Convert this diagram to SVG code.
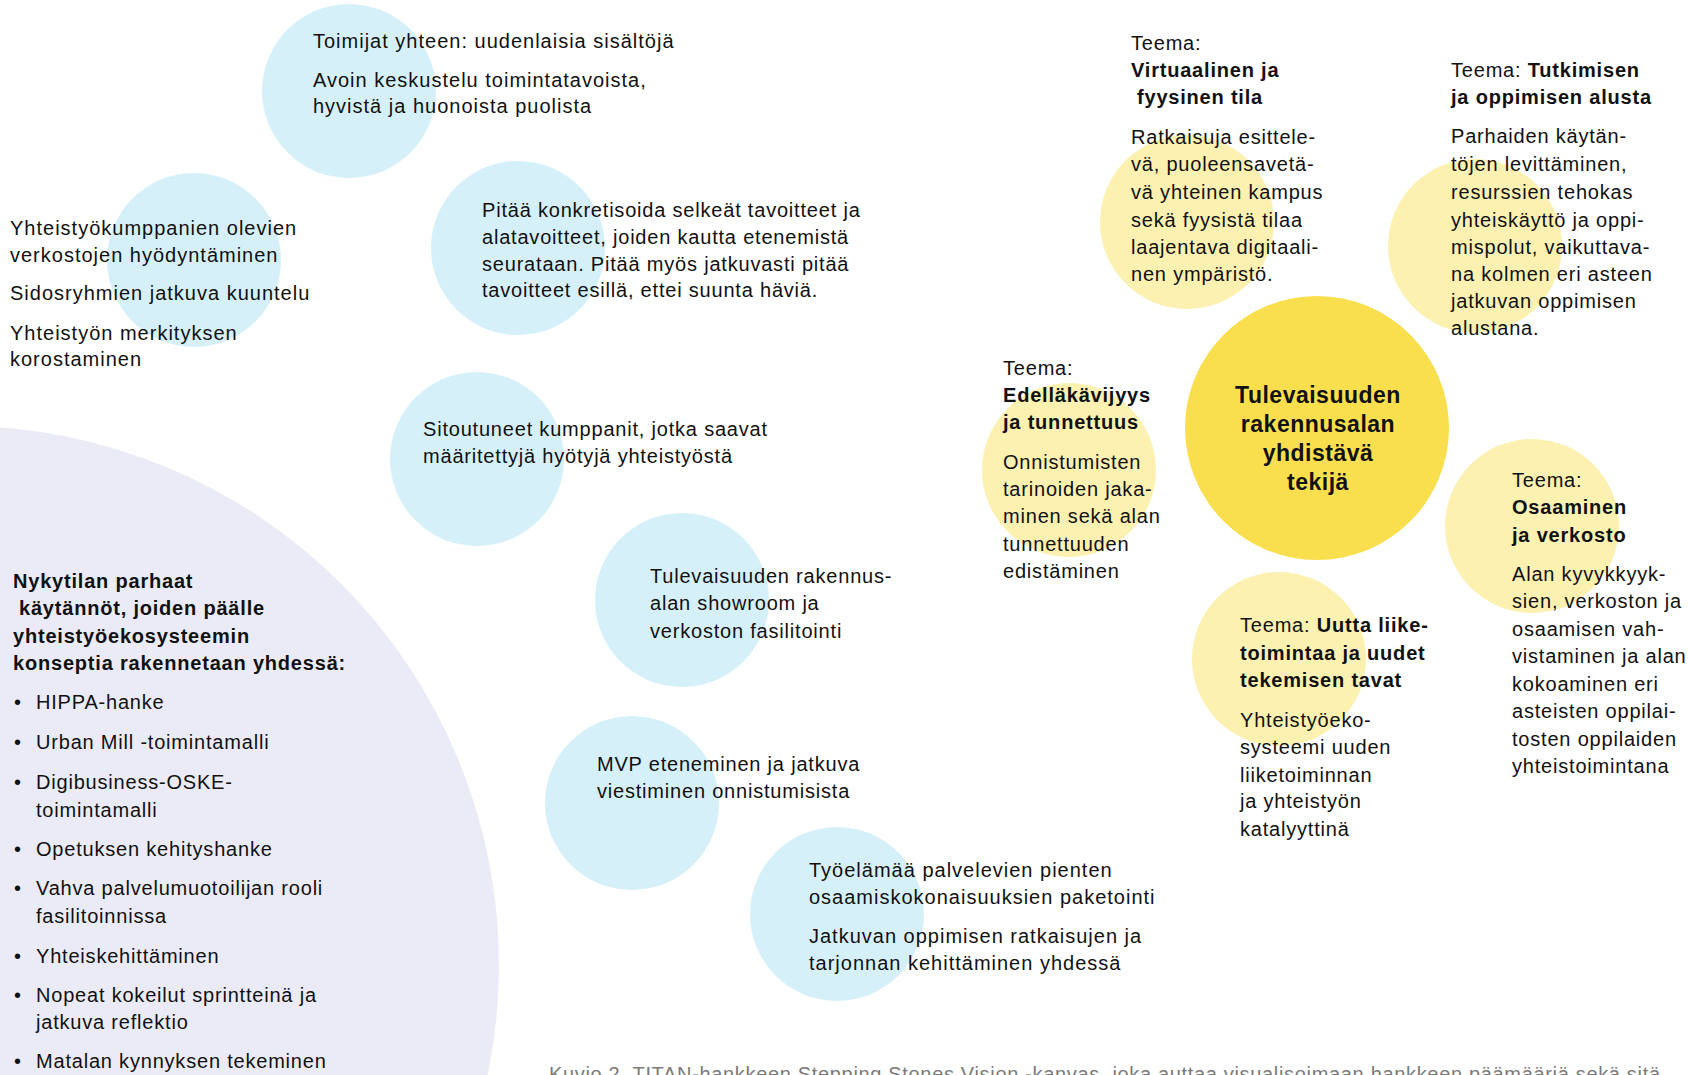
<svg xmlns="http://www.w3.org/2000/svg" width="1688" height="1075" viewBox="0 0 1688 1075">
  <style>
    .t { font-family: "Liberation Sans", Arial, sans-serif; font-size: 20px; letter-spacing: 0.8px; fill: #111111; }
    .w { letter-spacing: 1px; }
    .b { font-weight: 700; }
    .title { font-family: "Liberation Sans", Arial, sans-serif; font-size: 23px; font-weight: 700; letter-spacing: 0.5px; fill: #111111; text-anchor: middle; }
    .cap { font-family: "Liberation Sans", Arial, sans-serif; font-size: 20px; fill: #7a7a7a; }
    .blue { fill: #d6f0fa; }
    .pale { fill: #fcf1b1; }
    .gold { fill: #f9df4d; }
    .lav { fill: #ebebf7; }
  </style>

  <rect width="1688" height="1075" fill="#ffffff"/>

  <!-- Current best practices -->
  <g id="best-practices">
    <circle class="lav" cx="-40" cy="965" r="539"/>
    <text class="t b" x="13" y="588">Nykytilan parhaat</text>
    <text class="t b" x="19" y="615">käytännöt, joiden päälle</text>
    <text class="t b" x="13" y="643">yhteistyöekosysteemin</text>
    <text class="t b" x="13" y="670">konseptia rakennetaan yhdessä:</text>
    <g class="t">
      <text x="14" y="709">•</text><text x="36" y="709">HIPPA-hanke</text>
      <text x="14" y="749">•</text><text x="36" y="749">Urban Mill -toimintamalli</text>
      <text x="14" y="789">•</text><text x="36" y="789">Digibusiness-OSKE-</text>
      <text x="36" y="817">toimintamalli</text>
      <text x="14" y="856">•</text><text x="36" y="856">Opetuksen kehityshanke</text>
      <text x="14" y="895">•</text><text x="36" y="895">Vahva palvelumuotoilijan rooli</text>
      <text x="36" y="923">fasilitoinnissa</text>
      <text x="14" y="963">•</text><text x="36" y="963">Yhteiskehittäminen</text>
      <text x="14" y="1002">•</text><text x="36" y="1002">Nopeat kokeilut sprintteinä ja</text>
      <text x="36" y="1029">jatkuva reflektio</text>
      <text x="14" y="1068">•</text><text x="36" y="1068">Matalan kynnyksen tekeminen</text>
    </g>
  </g>

  <!-- Stepping stones -->
  <g id="stone-actors">
    <circle class="blue" cx="349" cy="91" r="87"/>
    <g class="t w">
      <text x="313" y="48">Toimijat yhteen: uudenlaisia sisältöjä</text>
      <text x="313" y="87">Avoin keskustelu toimintatavoista,</text>
      <text x="313" y="113">hyvistä ja huonoista puolista</text>
    </g>
  </g>

  <g id="stone-networks">
    <circle class="blue" cx="194" cy="260" r="87"/>
    <g class="t w">
      <text x="10" y="235">Yhteistyökumppanien olevien</text>
      <text x="10" y="262">verkostojen hyödyntäminen</text>
      <text x="10" y="300">Sidosryhmien jatkuva kuuntelu</text>
      <text x="10" y="340">Yhteistyön merkityksen</text>
      <text x="10" y="366">korostaminen</text>
    </g>
  </g>

  <g id="stone-goals">
    <circle class="blue" cx="518" cy="248" r="87"/>
    <g class="t">
      <text x="482" y="217">Pitää konkretisoida selkeät tavoitteet ja</text>
      <text x="482" y="244">alatavoitteet, joiden kautta etenemistä</text>
      <text x="482" y="271">seurataan. Pitää myös jatkuvasti pitää</text>
      <text x="482" y="297">tavoitteet esillä, ettei suunta häviä.</text>
    </g>
  </g>

  <g id="stone-partners">
    <circle class="blue" cx="477" cy="459" r="87"/>
    <g class="t">
      <text x="423" y="436">Sitoutuneet kumppanit, jotka saavat</text>
      <text x="423" y="463">määritettyjä hyötyjä yhteistyöstä</text>
    </g>
  </g>

  <g id="stone-showroom">
    <circle class="blue" cx="682" cy="600" r="87"/>
    <g class="t">
      <text x="650" y="583">Tulevaisuuden rakennus-</text>
      <text x="650" y="610">alan showroom ja</text>
      <text x="650" y="638">verkoston fasilitointi</text>
    </g>
  </g>

  <g id="stone-mvp">
    <circle class="blue" cx="632" cy="803" r="87"/>
    <g class="t">
      <text x="597" y="771">MVP eteneminen ja jatkuva</text>
      <text x="597" y="798">viestiminen onnistumisista</text>
    </g>
  </g>

  <g id="stone-learning">
    <circle class="blue" cx="837" cy="914" r="87"/>
    <g class="t w">
      <text x="809" y="877">Työelämää palvelevien pienten</text>
      <text x="809" y="904">osaamiskokonaisuuksien paketointi</text>
      <text x="809" y="943">Jatkuvan oppimisen ratkaisujen ja</text>
      <text x="809" y="970">tarjonnan kehittäminen yhdessä</text>
    </g>
  </g>

  <!-- Vision and themes -->
  <g id="vision">
    <circle class="gold" cx="1317" cy="428" r="132"/>
    <text class="title" x="1318" y="403">Tulevaisuuden</text>
    <text class="title" x="1318" y="432">rakennusalan</text>
    <text class="title" x="1318" y="461">yhdistävä</text>
    <text class="title" x="1318" y="490">tekijä</text>
  </g>

  <g id="theme-space">
    <circle class="pale" cx="1187" cy="222" r="87"/>
    <g class="t">
      <text x="1131" y="50">Teema:</text>
      <text class="b" x="1131" y="77">Virtuaalinen ja</text>
      <text class="b" x="1137" y="104">fyysinen tila</text>
      <text x="1131" y="144">Ratkaisuja esittele-</text>
      <text x="1131" y="171">vä, puoleensavetä-</text>
      <text x="1131" y="199">vä yhteinen kampus</text>
      <text x="1131" y="227">sekä fyysistä tilaa</text>
      <text x="1131" y="254">laajentava digitaali-</text>
      <text x="1131" y="281">nen ympäristö.</text>
    </g>
  </g>

  <g id="theme-research">
    <circle class="pale" cx="1475" cy="246" r="87"/>
    <g class="t">
      <text x="1451" y="77">Teema: <tspan class="b">Tutkimisen</tspan></text>
      <text class="b" x="1451" y="104">ja oppimisen alusta</text>
      <text x="1451" y="143">Parhaiden käytän-</text>
      <text x="1451" y="171">töjen levittäminen,</text>
      <text x="1451" y="199">resurssien tehokas</text>
      <text x="1451" y="227">yhteiskäyttö ja oppi-</text>
      <text x="1451" y="254">mispolut, vaikuttava-</text>
      <text x="1451" y="281">na kolmen eri asteen</text>
      <text x="1451" y="308">jatkuvan oppimisen</text>
      <text x="1451" y="335">alustana.</text>
    </g>
  </g>

  <g id="theme-pioneering">
    <circle class="pale" cx="1069" cy="470" r="87"/>
    <g class="t">
      <text x="1003" y="375">Teema:</text>
      <text class="b" x="1003" y="402">Edelläkävijyys</text>
      <text class="b" x="1003" y="429">ja tunnettuus</text>
      <text x="1003" y="469">Onnistumisten</text>
      <text x="1003" y="496">tarinoiden jaka-</text>
      <text x="1003" y="523">minen sekä alan</text>
      <text x="1003" y="551">tunnettuuden</text>
      <text x="1003" y="578">edistäminen</text>
    </g>
  </g>

  <g id="theme-competence">
    <circle class="pale" cx="1532" cy="526" r="87"/>
    <g class="t">
      <text x="1512" y="487">Teema:</text>
      <text class="b" x="1512" y="514">Osaaminen</text>
      <text class="b" x="1512" y="542">ja verkosto</text>
      <text x="1512" y="581">Alan kyvykkyyk-</text>
      <text x="1512" y="608">sien, verkoston ja</text>
      <text x="1512" y="636">osaamisen vah-</text>
      <text x="1512" y="663">vistaminen ja alan</text>
      <text x="1512" y="691">kokoaminen eri</text>
      <text x="1512" y="718">asteisten oppilai-</text>
      <text x="1512" y="746">tosten oppilaiden</text>
      <text x="1512" y="773">yhteistoimintana</text>
    </g>
  </g>

  <g id="theme-business">
    <circle class="pale" cx="1279" cy="659" r="87"/>
    <g class="t">
      <text x="1240" y="632">Teema: <tspan class="b">Uutta liike-</tspan></text>
      <text class="b" x="1240" y="660">toimintaa ja uudet</text>
      <text class="b" x="1240" y="687">tekemisen tavat</text>
      <text x="1240" y="727">Yhteistyöeko-</text>
      <text x="1240" y="754">systeemi uuden</text>
      <text x="1240" y="782">liiketoiminnan</text>
      <text x="1240" y="808">ja yhteistyön</text>
      <text x="1240" y="836">katalyyttinä</text>
    </g>
  </g>

  <!-- Figure caption, clipped by the lower edge -->
  <text class="cap" x="549" y="1081" textLength="1111" lengthAdjust="spacing">Kuvio 2. TITAN-hankkeen Stepping Stones Vision -kanvas, joka auttaa visualisoimaan hankkeen päämääriä sekä sitä</text>
</svg>
